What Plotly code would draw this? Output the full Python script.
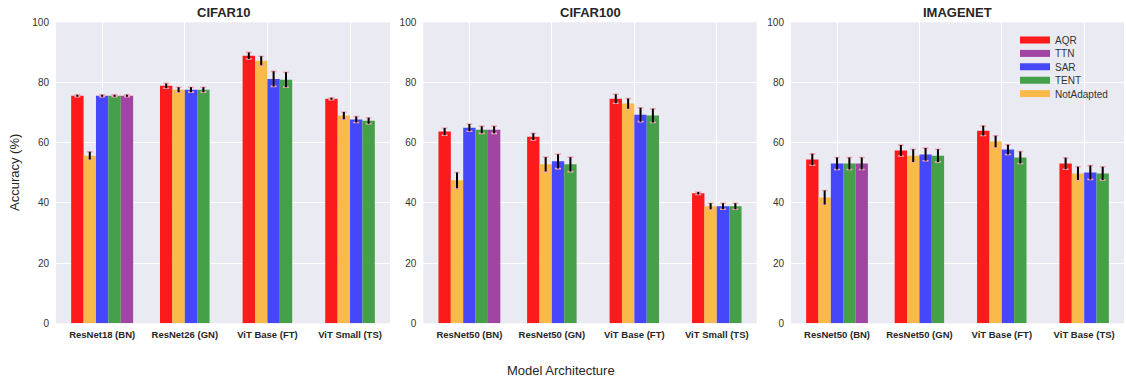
import plotly.graph_objects as go

# ---------------- data ----------------
datasets = ["CIFAR10", "CIFAR100", "IMAGENET"]
methods = ["AQR", "NotAdapted", "SAR", "TENT", "TTN"]
legend_order = ["AQR", "TTN", "SAR", "TENT", "NotAdapted"]

cifar10_models = ["ResNet18 (BN)", "ResNet26 (GN)", "ViT Base (FT)", "ViT Small (TS)"]
cifar100_models = ["ResNet50 (BN)", "ResNet50 (GN)", "ViT Base (FT)", "ViT Small (TS)"]
imagenet_models = ["ResNet50 (BN)", "ResNet50 (GN)", "ViT Base (FT)", "ViT Base (TS)"]

cifar10_aqr = [75.6, 78.9, 88.9, 74.6]
cifar10_notadapted = [55.7, 77.6, 87.2, 69.0]
cifar10_sar = [75.6, 77.6, 81.2, 67.7]
cifar10_tent = [75.6, 77.6, 80.9, 67.3]
cifar10_ttn = [75.6, None, None, None]
cifar10_aqr_err = [0.3, 0.8, 1.1, 0.3]
cifar10_notadapted_err = [1.3, 0.8, 1.5, 1.2]
cifar10_sar_err = [0.3, 0.8, 2.5, 1.0]
cifar10_tent_err = [0.3, 0.8, 2.5, 1.0]
cifar10_ttn_err = [0.3, None, None, None]

cifar100_aqr = [63.7, 62.0, 74.6, 43.2]
cifar100_notadapted = [47.5, 52.8, 73.0, 38.9]
cifar100_sar = [65.0, 53.8, 69.3, 38.9]
cifar100_tent = [64.3, 52.8, 69.0, 38.9]
cifar100_ttn = [64.3, None, None, None]
cifar100_aqr_err = [1.2, 1.1, 1.5, 0.4]
cifar100_notadapted_err = [2.6, 2.4, 1.7, 1.0]
cifar100_sar_err = [1.2, 2.4, 2.3, 1.0]
cifar100_tent_err = [1.2, 2.4, 2.3, 1.0]
cifar100_ttn_err = [1.2, None, None, None]

imagenet_aqr = [54.4, 57.4, 64.0, 53.1]
imagenet_notadapted = [41.8, 55.7, 60.4, 49.8]
imagenet_sar = [53.1, 56.1, 57.7, 50.1]
imagenet_tent = [53.1, 55.7, 55.1, 49.8]
imagenet_ttn = [53.1, None, None, None]
imagenet_aqr_err = [1.9, 1.8, 1.6, 1.9]
imagenet_notadapted_err = [2.3, 2.1, 1.9, 2.2]
imagenet_sar_err = [2.0, 2.1, 1.6, 2.3]
imagenet_tent_err = [2.0, 2.1, 2.0, 2.2]
imagenet_ttn_err = [2.0, None, None, None]

y_ticks = [0, 20, 40, 60, 80, 100]

# ---------------- styling ----------------
colors = {
    "AQR": "#FD1A1A",
    "NotAdapted": "#F9BA49",
    "SAR": "#4646FB",
    "TENT": "#46A049",
    "TTN": "#A046A2",
}
BG = "#EAEAF2"
W, H = 1126, 379
BAR_W = 0.15
FONT = "Liberation Sans, Arial"

tables = {
    "CIFAR10": (cifar10_models,
                {"AQR": cifar10_aqr, "NotAdapted": cifar10_notadapted, "SAR": cifar10_sar,
                 "TENT": cifar10_tent, "TTN": cifar10_ttn},
                {"AQR": cifar10_aqr_err, "NotAdapted": cifar10_notadapted_err, "SAR": cifar10_sar_err,
                 "TENT": cifar10_tent_err, "TTN": cifar10_ttn_err}),
    "CIFAR100": (cifar100_models,
                 {"AQR": cifar100_aqr, "NotAdapted": cifar100_notadapted, "SAR": cifar100_sar,
                  "TENT": cifar100_tent, "TTN": cifar100_ttn},
                 {"AQR": cifar100_aqr_err, "NotAdapted": cifar100_notadapted_err, "SAR": cifar100_sar_err,
                  "TENT": cifar100_tent_err, "TTN": cifar100_ttn_err}),
    "IMAGENET": (imagenet_models,
                 {"AQR": imagenet_aqr, "NotAdapted": imagenet_notadapted, "SAR": imagenet_sar,
                  "TENT": imagenet_tent, "TTN": imagenet_ttn},
                 {"AQR": imagenet_aqr_err, "NotAdapted": imagenet_notadapted_err, "SAR": imagenet_sar_err,
                  "TENT": imagenet_tent_err, "TTN": imagenet_ttn_err}),
}

x_domains = [(56 / W, 390 / W), (423.3 / W, 756.7 / W), (791 / W, 1124 / W)]
y_domain = (1 - 323.3 / H, 1 - 22.3 / H)

fig = go.Figure()

for d_i, ds in enumerate(datasets):
    models, vals, errs = tables[ds]
    sfx = "" if d_i == 0 else str(d_i + 1)
    xa, ya = "x" + sfx, "y" + sfx
    # positions of each bar (groups centred on the category tick)
    pos = {m: [] for m in methods}
    for g in range(len(models)):
        present = [m for m in methods if vals[m][g] is not None]
        n = len(present)
        for m in methods:
            if vals[m][g] is None:
                pos[m].append(None)
            else:
                j = present.index(m)
                pos[m].append(g + (j - (n - 1) / 2) * BAR_W)
    all_pos = [p for m in methods for p in pos[m] if p is not None]
    lo, hi = min(all_pos) - BAR_W / 2, max(all_pos) + BAR_W / 2
    pad = 0.05 * (hi - lo)

    for m in methods:
        xs = [p for p in pos[m] if p is not None]
        ys = [v for v in vals[m] if v is not None]
        fig.add_trace(go.Bar(
            x=xs, y=ys, width=BAR_W, marker=dict(color=colors[m], line=dict(width=0)),
            name=m, legendgroup=m, showlegend=False, xaxis=xa, yaxis=ya,
        ))
    for m in methods:
        xs = [p for p in pos[m] if p is not None]
        ys = [v for v in vals[m] if v is not None]
        es = [e for e in errs[m] if e is not None]
        # pink caps
        fig.add_trace(go.Scatter(
            x=xs, y=ys, mode="markers", marker=dict(size=0.1, opacity=0),
            error_y=dict(type="data", array=es, visible=True, color="#F2A7B5", thickness=1.6, width=3),
            showlegend=False, hoverinfo="skip", xaxis=xa, yaxis=ya,
        ))
        # black stems
        fig.add_trace(go.Scatter(
            x=xs, y=ys, mode="markers", marker=dict(size=0.1, opacity=0),
            error_y=dict(type="data", array=es, visible=True, color="black", thickness=2, width=0),
            showlegend=False, hoverinfo="skip", xaxis=xa, yaxis=ya,
        ))

    fig.update_layout(**{
        "xaxis" + sfx: dict(
            domain=x_domains[d_i], anchor=ya, range=[lo - pad, hi + pad],
            tickmode="array", tickvals=list(range(len(models))), ticktext=models,
            tickfont=dict(family=FONT, size=9.5, color="#262626", weight="bold"),
            showgrid=True, gridcolor="white", gridwidth=1, zeroline=False, showline=False,
            ticks="", automargin=False, ticklabelstandoff=4,
        ),
        "yaxis" + sfx: dict(
            domain=y_domain, anchor=xa, range=[0, 100],
            tickmode="array", tickvals=y_ticks, ticktext=[str(t) for t in y_ticks],
            tickfont=dict(family=FONT, size=10, color="#333333"),
            showgrid=True, gridcolor="white", gridwidth=1, zeroline=False, showline=False,
            ticks="", automargin=False, ticklabelstandoff=6,
        ),
    })
    fig.add_annotation(
        text="<b>" + ds + "</b>", xref="paper", yref="paper",
        x=(x_domains[d_i][0] + x_domains[d_i][1]) / 2, y=1 - 12.3 / H,
        xanchor="center", yanchor="middle", showarrow=False,
        font=dict(family=FONT, size=13, color="#262626"),
    )

# legend entries (matplotlib-like patches), one small legend per entry for tight spacing
legend_layouts = {}
for k, m in enumerate(legend_order):
    lname = "legend" if k == 0 else "legend" + str(k + 1)
    fig.add_trace(go.Scatter(
        x=[None], y=[None], mode="lines", line=dict(color=colors[m], width=7),
        name=m, legendgroup=m, showlegend=True, xaxis="x3", yaxis="y3", legend=lname,
    ))
    legend_layouts[lname] = dict(
        x=1015 / W, y=1 - (40 + 13.4 * k) / H, xanchor="left", yanchor="middle",
        bgcolor="rgba(0,0,0,0)", borderwidth=0,
        font=dict(family=FONT, size=10, color="#333333"), itemwidth=30,
    )

fig.add_annotation(
    text="Model Architecture", xref="paper", yref="paper", x=561 / W, y=1 - 370.5 / H,
    xanchor="center", yanchor="middle", showarrow=False,
    font=dict(family=FONT, size=13, color="#262626"),
)
fig.add_annotation(
    text="Accuracy (%)", xref="paper", yref="paper", x=14 / W, y=1 - 173 / H,
    xanchor="center", yanchor="middle", showarrow=False, textangle=-90,
    font=dict(family=FONT, size=13, color="#262626"),
)

fig.update_layout(
    width=W, height=H, margin=dict(l=0, r=0, t=0, b=0),
    paper_bgcolor="white", plot_bgcolor=BG,
    barmode="overlay", showlegend=True,
    font=dict(family=FONT),
    **legend_layouts,
)

fig.write_html("out.html")
